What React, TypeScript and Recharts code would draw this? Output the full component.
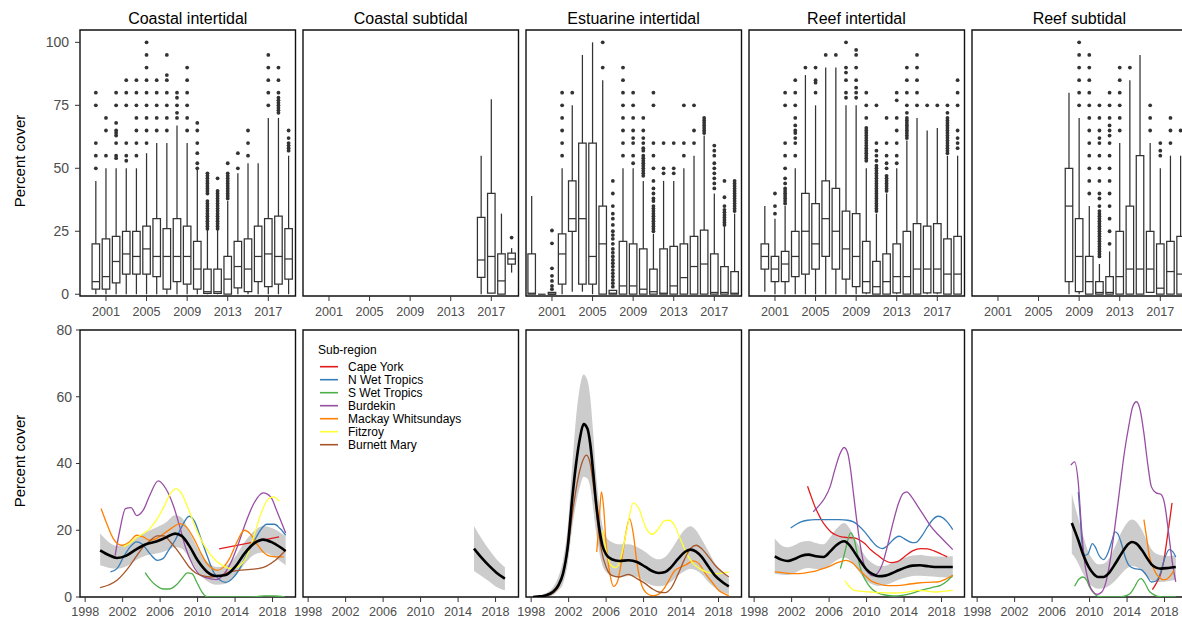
import React from "react";
import {
  ComposedChart,
  XAxis,
  YAxis,
  Line,
  Area,
  Scatter,
  ReferenceArea,
  ReferenceLine,
} from "recharts";

type Box = [number, number, number, number, number, number]; // year, lo, q1, median, q3, hi
type Outliers = [number, number[]];
type Pt = [number, number];
type Band = [number, number, number]; // year, lower, upper

const FONT = '"Liberation Sans", Arial, Helvetica, sans-serif';
const INK = "#333333";
const TICK_TEXT = "#4d4d4d";

const habitats = ["Coastal intertidal", "Coastal subtidal", "Estuarine intertidal", "Reef intertidal", "Reef subtidal"];
const subRegions = ["Cape York", "N Wet Tropics", "S Wet Tropics", "Burdekin", "Mackay Whitsundays", "Fitzroy", "Burnett Mary"];
const subRegionColors = ["#E41A1C", "#377EB8", "#4DAF4A", "#984EA3", "#FF7F00", "#FFFF33", "#A65628"];

const topYearTicks = [2001, 2005, 2009, 2013, 2017];
const topCoverTicks = [0, 25, 50, 75, 100];
const bottomYearTicks = [1998, 2002, 2006, 2010, 2014, 2018];
const bottomCoverTicks = [0, 20, 40, 60, 80];

// ---- yearly boxplots ----
const boxesCoastalIntertidal: Box[] = [
  [2000, 0, 2, 5, 20, 45], [2001, 0, 2, 7, 22, 50], [2002, 0, 4.5, 13, 23, 50], [2003, 0, 8, 16, 25, 50],
  [2004, 0, 8, 15, 25, 50], [2005, 0, 8, 18, 27, 56], [2006, 0, 7, 15, 30, 60], [2007, 0, 2, 15, 26, 60],
  [2008, 0, 5, 15, 30, 67], [2009, 0, 4, 15, 27, 60], [2010, 0, 2, 10, 21, 50], [2011, 0, 0.3, 1, 10, 25.5],
  [2012, 0, 0.3, 1, 10, 25.5], [2013, 0, 0, 6, 15, 37], [2014, 0, 2.5, 11, 21, 48], [2015, 0, 1, 10, 22, 52],
  [2016, 0, 5, 15, 27, 52], [2017, 0, 3, 16, 30, 70], [2018, 0, 4, 15, 31, 70], [2019, 0, 6, 14, 26, 55],
];
const outliersCoastalIntertidal: Outliers[] = [
  [2000, [50, 55, 60, 75, 80]],
  [2001, [55, 65, 70]],
  [2002, [54, 55, 60, 63, 64, 65, 68, 75, 80]],
  [2003, [53, 55, 60, 75, 80, 85]],
  [2004, [55, 60, 65, 70, 75, 80, 85]],
  [2005, [60, 65, 70, 75, 80, 85, 90, 95, 100]],
  [2006, [65, 70, 75, 80, 85]],
  [2007, [65, 70, 75, 80, 85, 87, 95]],
  [2008, [70, 72, 75, 78, 80]],
  [2009, [65, 70, 75, 80, 85, 90]],
  [2010, [50, 52, 56, 60, 65, 68]],
  [2011, [26, 27, 28, 29, 30, 31, 32, 33, 34, 35, 36, 37, 40, 41, 42, 43, 44, 45, 46, 47, 48]],
  [2012, [26, 27, 28, 29, 30, 31, 32, 33, 34, 35, 36, 37, 38, 39, 40, 41, 46]],
  [2013, [38, 39, 40, 41, 42, 43, 44, 45, 46, 47, 48, 52]],
  [2014, [50, 56]],
  [2015, [55, 60, 65]],
  [2017, [75, 80, 85, 90, 95]],
  [2018, [72, 73, 74, 75, 76, 77, 78, 80, 85, 90]],
  [2019, [57, 58, 59, 60, 62, 65]],
];

const boxesCoastalSubtidal: Box[] = [
  [2016, 0, 6.7, 13.6, 30.5, 55], [2017, 0.4, 0.4, 15, 40, 77.4], [2018, 0, 0, 5.3, 16, 32], [2019, 8.6, 12, 14, 16.3, 18.3],
];
const outliersCoastalSubtidal: Outliers[] = [[2019, [22.5]]];

const boxesEstuarineIntertidal: Box[] = [
  [1999, 0, 0, 0.4, 16, 39], [2000, 0, 0, 0, 0, 0], [2001, 0, 0, 0, 0.7, 0.7], [2002, 0, 4, 16, 24, 50],
  [2003, 1, 25, 30, 45, 75], [2004, 1, 4, 30, 60, 95], [2005, 0, 4, 15, 60, 100], [2006, 0, 0, 20, 35, 85],
  [2007, 0, 0, 0.4, 1.5, 1.5], [2008, 0, 0, 3.3, 21, 50], [2009, 0, 0, 3.3, 20, 50], [2010, 0, 0, 2, 18, 45],
  [2011, 0, 0, 1, 10, 24], [2012, 0, 0, 0.4, 18, 45], [2013, 0, 0, 3.3, 19, 45], [2014, 0, 0, 6.6, 20, 50],
  [2015, 0, 0, 11, 23, 55], [2016, 0, 0, 12, 25.5, 63], [2017, 0, 0, 0.7, 16, 40], [2018, 0, 0, 0.7, 11, 27],
  [2019, 0, 0, 0.4, 9, 32],
];
const outliersEstuarineIntertidal: Outliers[] = [
  [2001, [2, 3.3, 5.3, 7.3, 10.3, 20.2, 25.3]],
  [2002, [55, 60, 65, 70, 75, 80]],
  [2003, [80]],
  [2006, [90, 100]],
  [2007, [3, 4.4, 5.7, 7, 8.3, 9.6, 11, 12.3, 13.6, 15, 16.5, 18, 20, 22, 23.5, 25, 27.5, 30, 32, 35, 40, 45]],
  [2008, [55, 60, 65, 70, 75, 80, 85, 90]],
  [2009, [52, 55, 60, 62, 65, 70, 75, 80]],
  [2010, [47, 48, 49, 50, 51, 52, 53, 54, 55, 57, 58, 60, 62, 65, 70]],
  [2011, [25, 26, 27, 28, 29, 30, 31, 32, 33, 34, 35, 37, 38, 40, 42, 45, 50, 55, 60, 75, 80]],
  [2012, [48, 50, 60]],
  [2013, [48, 50, 60]],
  [2014, [55, 60, 75]],
  [2015, [60, 65, 75]],
  [2016, [64, 65, 66, 67, 68, 69, 70]],
  [2017, [42, 44, 46, 48, 50, 52, 55, 57, 59]],
  [2018, [27.5, 28.5, 29.5, 30.5, 31.5, 32.5, 33.5, 35, 38.5, 45]],
  [2019, [33, 34, 35, 36, 37, 38, 39, 40, 41, 42, 43, 44, 45]],
];

const boxesReefIntertidal: Box[] = [
  [2000, 1, 10, 15, 20, 35], [2001, 0, 5, 10, 15, 30], [2002, 0, 5, 12, 17, 35], [2003, 0, 7, 15, 25, 50],
  [2004, 0, 8, 25, 40, 87], [2005, 0, 10, 20, 36, 75], [2006, 0, 15, 30, 45, 90], [2007, 0, 10, 25, 42, 90],
  [2008, 0, 6, 18, 33, 75], [2009, 0, 3, 15, 32, 75], [2010, 0, 0.5, 5, 21, 50], [2011, 0, 0, 3, 13, 32],
  [2012, 0, 0, 5, 16, 40], [2013, 0, 0.5, 7, 20, 50], [2014, 0, 0, 7, 25, 61], [2015, 0, 0, 10, 28, 70],
  [2016, 0, 0.5, 10, 27, 65], [2017, 0, 0.5, 10, 28, 66], [2018, 0, 0, 8, 22, 55], [2019, 0, 0, 8, 23, 55],
];
const outliersReefIntertidal: Outliers[] = [
  [2001, [32, 35, 40]],
  [2002, [36, 37, 38, 39, 40, 41, 42, 44, 46, 50, 55, 60, 75, 80]],
  [2003, [55, 60, 62, 64, 65, 67, 70, 75, 80, 85]],
  [2004, [90]],
  [2005, [80, 84, 85, 90]],
  [2006, [95]],
  [2007, [95]],
  [2008, [78, 80, 85, 88, 90, 100]],
  [2009, [78, 80, 82, 85, 90, 95, 97]],
  [2010, [53, 54, 55, 56, 57, 58, 59, 60, 61, 62, 63, 64, 65, 66, 70, 75, 80]],
  [2011, [33, 34, 35, 36, 37, 38, 39, 40, 41, 42, 43, 44, 45, 46, 47, 48, 49, 50, 51, 53, 55, 57, 60, 75]],
  [2012, [41, 42, 43, 44, 45, 46, 47, 50, 52, 55, 60, 70]],
  [2013, [52, 55, 60, 65, 70, 77, 80]],
  [2014, [62, 63, 64, 65, 66, 67, 68, 69, 70, 72, 75, 80, 85, 90]],
  [2015, [75, 80, 85, 90, 95]],
  [2016, [75]],
  [2017, [75]],
  [2018, [56, 57, 58, 59, 60, 61, 62, 63, 64, 65, 66, 67, 68, 69, 70, 72, 75]],
  [2019, [58, 60, 62, 65, 75, 80, 85]],
];

const boxesReefSubtidal: Box[] = [
  [2008, 0, 5, 35, 50, 80], [2009, 0, 1, 15, 30, 70], [2010, 0, 0, 5, 15, 35], [2011, 0, 0, 0.7, 5, 12],
  [2012, 0, 0, 0.7, 7, 17], [2013, 0, 0, 7, 25, 60], [2014, 0, 0, 10, 35, 85], [2015, 0, 0, 10, 55, 95],
  [2016, 0.7, 0.7, 10, 25, 60], [2017, 0, 0, 2.4, 20, 50], [2018, 0, 0, 9, 21, 55], [2019, 0, 0, 8, 23, 55],
];
const outliersReefSubtidal: Outliers[] = [
  [2009, [75, 80, 85, 90, 95, 100]],
  [2010, [40, 45, 50, 55, 60, 65, 70, 75, 80, 85, 90, 95]],
  [2011, [15, 16, 17, 18, 19, 20, 21, 22, 23, 24, 25, 26, 27, 28, 29, 30, 31, 32, 33, 35, 38, 40, 45, 50, 55, 60, 62, 65, 70, 75]],
  [2012, [20, 25, 30, 35, 40, 45, 50, 55, 60, 63, 65, 67, 70, 75, 80]],
  [2013, [65, 70, 75, 80, 85, 90]],
  [2014, [90]],
  [2016, [65, 70, 75]],
  [2017, [55, 57, 60]],
  [2018, [60, 65, 70]],
  [2019, [65]],
];

// ---- smoothed trends by sub-region ----
const ciMean: Pt[] = [[1999.6, 14], [2000.5, 12.6], [2001.4, 11.7], [2002.4, 12.4], [2003.4, 14.2], [2004.5, 15.8], [2005.6, 16.6], [2006.6, 17.8], [2007.6, 19], [2008.3, 18.3], [2009.1, 15.4], [2010, 11], [2011, 7.6], [2012, 6.3], [2013, 6.6], [2014, 9], [2015, 13], [2016, 16], [2017, 17.2], [2018, 16.3], [2019.4, 13.8]];
const ciRibbon: Band[] = [[1999.6, 9.5, 19], [2000.5, 8.8, 16.5], [2001.4, 8.5, 15.3], [2002.4, 9.2, 15.8], [2003.4, 11, 17.6], [2004.5, 12.4, 19.4], [2005.6, 13, 20.8], [2006.6, 13.8, 22.3], [2007.6, 15, 24.5], [2008.3, 14.5, 23.8], [2009.1, 11.8, 19.6], [2010, 7.8, 14.6], [2011, 4.8, 10.6], [2012, 3.7, 9], [2013, 4, 9.4], [2014, 6.2, 12], [2015, 9.8, 16.4], [2016, 12.6, 19.7], [2017, 13.3, 21.3], [2018, 12.3, 20.6], [2019.4, 9.5, 18.2]];
const ciCapeYork: Pt[] = [[2012.3, 14.4], [2018.7, 18]];
const ciNWetTropics: Pt[] = [[2000.7, 7.5], [2001.4, 8.5], [2002.1, 12], [2002.8, 15], [2003.5, 16.5], [2004.1, 15.8], [2004.9, 13], [2005.7, 11], [2006.3, 11.5], [2006.9, 14], [2007.6, 17], [2008.3, 21], [2009.1, 24.2], [2009.7, 22.5], [2010.3, 18], [2011, 12.5], [2011.7, 7.5], [2012.4, 5], [2013, 4.4], [2013.7, 5.5], [2014.5, 8.5], [2015.3, 13], [2016, 16.5], [2016.7, 20], [2017.4, 21.8], [2018.2, 21.8], [2018.8, 20.5], [2019.4, 18.5]];
const ciSWetTropics: Pt[] = [[2004.4, 7.3], [2005, 5], [2005.7, 3.2], [2006.3, 2.4], [2007, 2.4], [2007.8, 3.8], [2008.4, 5.8], [2008.9, 7.2], [2009.4, 7], [2009.9, 4.5], [2010.4, 1.8], [2010.9, 0.2], [2011.5, 0], [2013, 0], [2015, 0], [2016.3, 0.1], [2017.2, 0.35], [2018.2, 0.3], [2019.3, 0]];
const ciBurdekin: Pt[] = [[2001.2, 12.5], [2001.7, 20], [2002.3, 26.5], [2002.9, 26.8], [2003.5, 24.4], [2004.2, 26], [2004.9, 30.5], [2005.8, 34.8], [2006.6, 32.5], [2007.4, 27.5], [2008.1, 21], [2008.7, 15], [2009.5, 9.5], [2010.3, 6.5], [2011, 5.7], [2012, 5.2], [2012.7, 6.5], [2013.5, 10], [2014.3, 15.5], [2015.1, 22], [2016, 28], [2017, 31.2], [2017.8, 30], [2018.5, 25.5], [2019.4, 19.2]];
const ciMackay: Pt[] = [[1999.7, 26.5], [2000.3, 22], [2001, 17.5], [2001.9, 15.5], [2002.7, 16.5], [2003.5, 18.5], [2004.2, 18], [2004.9, 17], [2005.6, 17.5], [2006.4, 19], [2007.3, 20.8], [2008.1, 22], [2008.8, 21], [2009.6, 17.5], [2010.3, 13.5], [2011, 10], [2011.6, 8.5], [2012.1, 8], [2012.7, 8.8], [2013.4, 11.5], [2014.2, 16.5], [2015, 20], [2015.6, 19], [2016.3, 16], [2017, 13.5], [2017.8, 12.2], [2019.2, 12]];
const ciFitzroy: Pt[] = [[2002.1, 15], [2002.8, 16.2], [2003.5, 17.8], [2004.2, 19], [2004.9, 20.5], [2005.7, 23.5], [2006.4, 27], [2007.1, 31], [2007.7, 32.4], [2008.3, 31], [2009, 26.5], [2009.9, 20], [2010.6, 16], [2011.3, 13], [2012, 10.8], [2012.8, 9.2], [2013.5, 8.5], [2014.3, 9], [2015, 11], [2015.7, 15.5], [2016.3, 21], [2016.9, 26], [2017.6, 29.5], [2018.1, 30], [2018.7, 28.7]];
const ciBurnettMary: Pt[] = [[1999.6, 2.8], [2000.5, 3.6], [2001.4, 5], [2002.1, 7], [2002.8, 9.5], [2003.5, 12.3], [2004.2, 15], [2004.9, 16.8], [2005.7, 18.3], [2006.4, 18.3], [2007.1, 16.5], [2007.7, 14.5], [2008.4, 11.8], [2009.1, 9], [2009.8, 7.2], [2010.6, 6.3], [2011.4, 6], [2012.4, 6.4], [2013.4, 7.5], [2014.4, 8], [2015.4, 8.2], [2016.4, 8.5], [2017.3, 9.2], [2018.3, 11], [2019.4, 14]];

const csMean: Pt[] = [[2015.7, 14.5], [2016.5, 11.8], [2017.3, 9.4], [2018.1, 7.3], [2019, 5.5]];
const csRibbon: Band[] = [[2015.7, 7.8, 21.3], [2016.5, 6.3, 17.5], [2017.3, 4.7, 14.2], [2018.1, 3, 11.3], [2019, 2, 8.9]];

const eiMean: Pt[] = [[1998.2, 0], [1999, 0.2], [1999.6, 0.5], [2000.3, 1.5], [2000.9, 3.5], [2001.4, 7], [2001.9, 15], [2002.4, 30], [2002.8, 40], [2003.2, 47.5], [2003.6, 51.8], [2004, 50.5], [2004.3, 46], [2004.6, 38], [2004.9, 29], [2005.3, 20], [2005.6, 15.5], [2006, 12.8], [2006.6, 11.3], [2007.4, 10.8], [2008.4, 11], [2009.3, 10.5], [2010.2, 9], [2010.9, 7.8], [2011.6, 7.2], [2012.3, 7.5], [2012.9, 8.8], [2013.7, 11.5], [2014.4, 13.5], [2015, 14.2], [2015.6, 13.6], [2016.2, 12], [2016.9, 9.2], [2017.6, 6.5], [2018.4, 4.5], [2019.1, 3.2]];
const eiRibbon: Band[] = [[1998.2, 0, 0], [1999, 0, 0.5], [1999.6, 0, 1.2], [2000.3, 0.5, 2.8], [2000.9, 2, 6], [2001.4, 4, 11], [2001.9, 10, 21], [2002.4, 21, 40], [2002.8, 28, 54], [2003.2, 33, 63], [2003.6, 36, 66.7], [2004, 35.5, 65], [2004.3, 33, 60], [2004.6, 27, 50], [2004.9, 20, 38], [2005.3, 13, 27], [2005.6, 9.5, 21.5], [2006, 7.5, 18], [2006.6, 6.3, 16.5], [2007.4, 6, 15.8], [2008.4, 6.3, 15.8], [2009.3, 6, 15], [2010.2, 4.5, 13.5], [2010.9, 3.5, 12], [2011.6, 3.2, 11.3], [2012.3, 3.5, 12], [2012.9, 4.5, 14], [2013.7, 6.5, 17.5], [2014.4, 7.8, 20.2], [2015, 8.5, 21.2], [2015.6, 8, 20], [2016.2, 6.8, 17.3], [2016.9, 4.5, 13.8], [2017.6, 2.8, 10.2], [2018.4, 1.5, 7.5], [2019.1, 0.8, 5.6]];
const eiMackay: Pt[] = [[2005, 13.5], [2005.3, 25], [2005.5, 31.5], [2005.7, 28], [2006, 16], [2006.4, 7], [2006.8, 3.2], [2007.2, 4.5], [2007.6, 10], [2008.1, 19], [2008.5, 23.5], [2008.9, 19], [2009.3, 10], [2009.8, 3.5], [2010.4, 1], [2011, 0.4], [2011.6, 0.8], [2012.1, 2.2], [2012.7, 5], [2013.3, 7.8], [2014, 9], [2014.6, 9.8], [2015.3, 10.8], [2015.9, 10], [2016.6, 7], [2017.3, 4.5], [2018, 2], [2018.6, 1], [2019.1, 0.4]];
const eiFitzroy: Pt[] = [[2005.6, 20], [2006, 14], [2006.5, 9.5], [2007, 8.8], [2007.5, 11], [2008.2, 20], [2008.9, 28.2], [2009.5, 26.5], [2010.2, 21], [2010.9, 18.8], [2011.6, 20.5], [2012.2, 22.8], [2012.7, 23], [2013.3, 21.5], [2013.9, 17.5], [2014.6, 13], [2015.3, 10], [2016, 8.5], [2016.7, 7.5], [2017.5, 7], [2018.3, 7.1], [2019.1, 7.5]];
const eiBurnettMary: Pt[] = [[1998.2, 0], [1999.6, 0.4], [2000.5, 1.5], [2001.2, 5], [2001.8, 12], [2002.4, 25], [2002.9, 34], [2003.4, 40], [2003.9, 42.5], [2004.3, 40], [2004.7, 32], [2005.1, 22], [2005.5, 14], [2006, 9], [2006.6, 6.5], [2007.4, 6], [2008.4, 6.8], [2009.3, 5.5], [2010.2, 4], [2010.9, 2.5], [2011.6, 1.5], [2012.3, 1.3], [2012.9, 2.5], [2013.7, 7], [2014.4, 11.5], [2015, 14.5], [2015.6, 15.5], [2016.3, 14.2], [2017, 11.8], [2017.7, 9.3], [2018.4, 7.5], [2019.1, 6]];

const riMean: Pt[] = [[2000.2, 12.2], [2000.9, 11.2], [2001.6, 10.8], [2002.3, 11.4], [2003, 12.3], [2003.8, 12.7], [2004.6, 12.2], [2005.4, 12], [2006.1, 13.6], [2006.8, 15.6], [2007.6, 16.7], [2008.2, 15.5], [2008.8, 13], [2009.4, 10.5], [2010, 8.2], [2010.6, 6.9], [2011.3, 6.2], [2012, 6.4], [2012.7, 7.1], [2013.4, 8], [2014.1, 8.8], [2014.9, 9.4], [2015.7, 9.5], [2016.6, 9.2], [2017.6, 9], [2019.2, 9]];
const riRibbon: Band[] = [[2000.2, 7, 17.5], [2000.9, 6.7, 15.5], [2001.6, 6.6, 14.9], [2002.3, 7.2, 15.5], [2003, 8.2, 16.5], [2003.8, 8.7, 16.8], [2004.6, 8.4, 16.2], [2005.4, 8.4, 15.8], [2006.1, 9.6, 17.8], [2006.8, 11, 20.5], [2007.6, 11.8, 22.2], [2008.2, 11, 20.5], [2008.8, 9, 17.3], [2009.4, 6.8, 14.3], [2010, 4.9, 11.7], [2010.6, 3.8, 10.2], [2011.3, 3.3, 9.3], [2012, 3.6, 9.4], [2012.7, 4.3, 10.2], [2013.4, 5.2, 11], [2014.1, 5.8, 11.8], [2014.9, 6.3, 12.4], [2015.7, 6.4, 12.6], [2016.6, 6.2, 12.3], [2017.6, 6, 12.1], [2019.2, 5.8, 12.2]];
const riCapeYork: Pt[] = [[2003.7, 33.2], [2004.1, 30], [2004.5, 27], [2004.9, 24.6], [2005.2, 23], [2005.7, 21], [2006.2, 19.5], [2006.8, 18.5], [2007.3, 18], [2008, 17.8], [2008.7, 17.7], [2009.3, 17], [2009.8, 16], [2010.5, 14], [2011.2, 12.5], [2011.9, 11], [2012.6, 10.3], [2013.3, 10.6], [2014, 12], [2014.9, 13.8], [2015.8, 14.5], [2016.5, 14.4], [2017.2, 13.8], [2018, 12.8], [2018.6, 12]];
const riNWetTropics: Pt[] = [[2001.9, 20.7], [2002.5, 21.8], [2003, 22.5], [2003.7, 23], [2004.5, 23.2], [2005.3, 23.2], [2006.2, 23.2], [2007.1, 23.2], [2008, 23], [2008.6, 22.5], [2009.1, 21.5], [2009.8, 19.5], [2010.5, 17], [2011.1, 15.2], [2011.7, 14.5], [2012.2, 15.3], [2012.6, 16.5], [2013.1, 17.8], [2013.5, 18.2], [2014, 17.5], [2014.4, 16.8], [2014.9, 16.3], [2015.3, 16.4], [2015.9, 18.3], [2016.5, 21], [2017.1, 23.3], [2017.6, 24.2], [2018.1, 23.8], [2018.6, 22.5], [2019.2, 20.2]];
const riSWetTropics: Pt[] = [[2007.2, 8.5], [2007.6, 12.5], [2007.9, 16], [2008.3, 19.2], [2008.7, 17], [2009, 13], [2009.3, 9], [2009.7, 6], [2010.1, 4], [2010.6, 2.3], [2011.2, 1.2], [2012, 0.6], [2012.9, 0.3], [2013.8, 0.5], [2014.7, 1], [2015.6, 1.8], [2016.5, 2.5], [2017.2, 3], [2017.9, 3.5], [2018.6, 4.8], [2019.2, 6.5]];
const riBurdekin: Pt[] = [[2004.3, 25.5], [2004.9, 27.3], [2005.5, 29.5], [2006.1, 33], [2006.6, 38], [2007.1, 42.5], [2007.6, 44.8], [2008, 43], [2008.3, 38], [2008.6, 31], [2008.9, 24], [2009.3, 16], [2009.7, 10], [2010.2, 7.2], [2010.7, 6.3], [2011.2, 7.2], [2011.7, 10], [2012.2, 15], [2012.8, 22], [2013.4, 28], [2013.9, 31], [2014.3, 31.5], [2014.8, 30], [2015.5, 27], [2016.2, 24], [2016.9, 21], [2017.6, 18.8], [2018.3, 16.8], [2019.2, 14.2]];
const riMackay: Pt[] = [[2000.2, 7.5], [2001.2, 7.2], [2002.3, 7], [2003.2, 7.1], [2004.1, 7.5], [2005, 8.2], [2005.9, 9], [2006.9, 10.3], [2007.8, 11], [2008.5, 10.2], [2009.1, 8.5], [2009.8, 6.5], [2010.5, 4.8], [2011.2, 4], [2011.9, 3.5], [2012.7, 3.4], [2013.6, 3.5], [2014.6, 3.9], [2015.5, 4.2], [2016.5, 4.4], [2017.6, 4.5], [2018.4, 5.3], [2019.2, 6.5]];
const riFitzroy: Pt[] = [[2007.7, 4.8], [2008.2, 3], [2008.7, 2], [2009.5, 1.7], [2010.5, 1.5], [2011.7, 1.3], [2012.9, 1.2], [2014.2, 1.4], [2015.5, 2], [2016.4, 1.8], [2017.2, 1.5], [2018.2, 1.7], [2019.2, 2]];

const rsMean: Pt[] = [[2008.1, 22.2], [2008.5, 19.3], [2008.8, 17], [2009.3, 12.8], [2009.9, 9], [2010.4, 7], [2010.9, 6], [2011.5, 6], [2012, 7], [2012.7, 9.8], [2013.4, 13], [2014, 15.5], [2014.5, 16.5], [2015, 16], [2015.6, 14], [2016.1, 11.8], [2016.6, 9.8], [2017.1, 8.8], [2017.6, 8.5], [2018.4, 8.7], [2019.2, 9]];
const rsRibbon: Band[] = [[2008.1, 13, 31], [2008.5, 11.5, 26.5], [2008.8, 10, 23.5], [2009.3, 7, 18.5], [2009.9, 4.2, 13.3], [2010.4, 3, 11], [2010.9, 2.5, 9.8], [2011.5, 2.6, 10], [2012, 3.2, 11.2], [2012.7, 4.8, 15], [2013.4, 7, 19.5], [2014, 8.6, 22.2], [2014.5, 9.3, 23.2], [2015, 9, 22.5], [2015.6, 7.7, 20], [2016.1, 6.1, 17], [2016.6, 5, 14.3], [2017.1, 4.5, 13], [2017.6, 4.5, 12.5], [2018.4, 4.8, 12.3], [2019.2, 5.2, 12.5]];
const rsCapeYork: Pt[] = [[2016.7, 2.2], [2017.1, 4], [2017.6, 7], [2017.9, 10.5], [2018.3, 18], [2018.6, 24], [2018.8, 28.2]];
const rsNWetTropics: Pt[] = [[2008.8, 31.5], [2009, 24], [2009.2, 16], [2009.5, 12.5], [2009.8, 12.8], [2010.3, 16], [2010.6, 15], [2011, 12.5], [2011.5, 11.2], [2012, 13.5], [2012.4, 17], [2012.7, 19.5], [2013, 19], [2013.4, 16], [2013.8, 12], [2014.2, 9.5], [2014.8, 8.5], [2015.5, 8.2], [2016, 6.8], [2016.6, 4.5], [2017.1, 4.8], [2017.6, 7.5], [2018, 11.5], [2018.5, 14.2], [2018.9, 13.5], [2019.2, 12]];
const rsSWetTropics: Pt[] = [[2008.4, 3.2], [2008.9, 5.5], [2009.3, 6], [2009.7, 5], [2010, 3], [2010.5, 1], [2010.9, 0.2], [2011.8, 0], [2012.7, 0], [2013.6, 0.2], [2014.3, 1], [2014.8, 3], [2015.2, 5], [2015.5, 5.5], [2015.9, 4.2], [2016.3, 2], [2016.8, 0.8], [2017.3, 0.2], [2018.2, 0], [2019.2, 0]];
const rsBurdekin: Pt[] = [[2008, 39.5], [2008.4, 40.5], [2008.8, 34], [2009.1, 22], [2009.4, 12], [2009.8, 5.5], [2010.3, 1.8], [2010.8, 0.8], [2011.3, 1.5], [2011.7, 4], [2012.2, 11], [2012.7, 21], [2013.2, 32], [2013.7, 43], [2014.2, 51.5], [2014.6, 57], [2015, 58.5], [2015.4, 56], [2015.8, 49], [2016.2, 40], [2016.6, 33], [2017.1, 31.2], [2017.6, 30.8], [2018, 28], [2018.4, 20], [2018.8, 11], [2019.2, 4.5]];
const rsMackay: Pt[] = [[2015.8, 23.2], [2016.1, 17.5], [2016.4, 12], [2016.8, 8.8], [2017.1, 7], [2017.5, 5.8], [2017.8, 5.2], [2018.2, 5.3], [2018.5, 6], [2018.8, 7], [2019, 8]];

// ---- layout ----
const PANEL_X0 = 80;
const PANEL_STEP = 222.9;
const PANEL_W = 215.5;
const Y_AXIS_W = 65;
const SIDE = 15;
const PAD_TOP = 12;
const X_AXIS_H = 26;
const TOP_ROW = { y: 30, h: 266 };
const BOTTOM_ROW = { y: 330, h: 267 };
const TOP_X_DOMAIN: [number, number] = [1998.44, 2019.68];
const TOP_Y_DOMAIN: [number, number] = [-0.7, 104.9];
const BOTTOM_X_DOMAIN: [number, number] = [1997.45, 2020.45];
const BOTTOM_Y_DOMAIN: [number, number] = [0, 80];
const HALF_BOX = 0.37;
const BOX_STROKE = 1.25;

const panelLeft = (col: number) => PANEL_X0 + col * PANEL_STEP;

const frameFor = (col: number, row: { y: number; h: number }) => {
  const yW = col === 0 ? Y_AXIS_W : 0;
  return {
    left: panelLeft(col) - SIDE - yW,
    top: row.y - PAD_TOP,
    width: SIDE + yW + PANEL_W + SIDE,
    height: PAD_TOP + row.h + X_AXIS_H,
    margin: { top: PAD_TOP, right: SIDE, bottom: 0, left: SIDE },
  };
};

const xTick = { fill: TICK_TEXT, fontSize: 12.6, fontFamily: FONT };
const yTick = { fill: TICK_TEXT, fontSize: 14, fontFamily: FONT };

const renderOutlier = (p: any) => <circle cx={p.cx} cy={p.cy} r={1.9} fill={INK} />;

const TopPanel = ({ col, boxes, outliers }: { col: number; boxes: Box[]; outliers: Outliers[] }) => {
  const f = frameFor(col, TOP_ROW);
  const points = outliers.flatMap(([year, values]) => values.map((v) => ({ x: year, y: v })));
  const marks = boxes.flatMap(([year, lo, q1, med, q3, hi]) => [
    <ReferenceLine key={`lw${year}`} segment={[{ x: year, y: lo }, { x: year, y: q1 }]} stroke={INK} strokeWidth={BOX_STROKE} ifOverflow="visible" />,
    <ReferenceLine key={`uw${year}`} segment={[{ x: year, y: q3 }, { x: year, y: hi }]} stroke={INK} strokeWidth={BOX_STROKE} ifOverflow="visible" />,
    <ReferenceArea key={`bx${year}`} x1={year - HALF_BOX} x2={year + HALF_BOX} y1={q1} y2={q3} fill="none" stroke={INK} strokeWidth={BOX_STROKE} ifOverflow="visible" />,
    <ReferenceLine key={`md${year}`} segment={[{ x: year - HALF_BOX, y: med }, { x: year + HALF_BOX, y: med }]} stroke={INK} strokeWidth={BOX_STROKE} ifOverflow="visible" />,
  ]);
  return (
    <div style={{ position: "absolute", left: f.left, top: f.top }}>
      <ComposedChart width={f.width} height={f.height} margin={f.margin}>
        <XAxis dataKey="x" type="number" domain={TOP_X_DOMAIN} ticks={topYearTicks} interval={0} allowDataOverflow
          height={X_AXIS_H} axisLine={false} tickSize={5} tickMargin={6} tickLine={{ stroke: INK }} tick={xTick} />
        <YAxis type="number" domain={TOP_Y_DOMAIN} ticks={topCoverTicks} interval={0} allowDataOverflow hide={col !== 0}
          width={Y_AXIS_W} axisLine={false} tickSize={5} tickMargin={6} tickLine={{ stroke: INK }} tick={yTick} />
        {marks}
        <Scatter data={points} dataKey="y" shape={renderOutlier} isAnimationActive={false} />
        <ReferenceArea x1={TOP_X_DOMAIN[0]} x2={TOP_X_DOMAIN[1]} y1={TOP_Y_DOMAIN[0]} y2={TOP_Y_DOMAIN[1]}
          fill="none" stroke="#111" strokeWidth={1.4} ifOverflow="visible" />
      </ComposedChart>
    </div>
  );
};

const toXY = (pts: Pt[]) => pts.map(([x, y]) => ({ x, y }));

const BottomPanel = ({ col, mean, ribbon, lines }: { col: number; mean: Pt[]; ribbon: Band[]; lines: [number, Pt[]][] }) => {
  const f = frameFor(col, BOTTOM_ROW);
  const band = ribbon.map(([x, lo, hi]) => ({ x, range: [lo, hi] }));
  return (
    <div style={{ position: "absolute", left: f.left, top: f.top }}>
      <ComposedChart width={f.width} height={f.height} margin={f.margin}>
        <XAxis dataKey="x" type="number" domain={BOTTOM_X_DOMAIN} ticks={bottomYearTicks} interval={0} allowDataOverflow
          height={X_AXIS_H} axisLine={false} tickSize={5} tickMargin={5} tickLine={{ stroke: INK }} tick={xTick} />
        <YAxis type="number" domain={BOTTOM_Y_DOMAIN} ticks={bottomCoverTicks} interval={0} allowDataOverflow hide={col !== 0}
          width={Y_AXIS_W} axisLine={false} tickSize={4} tickMargin={4} tickLine={{ stroke: INK }} tick={yTick} />
        <Area data={band} dataKey="range" type="monotone" stroke="none" fill="#cccccc" fillOpacity={1} isAnimationActive={false} />
        {lines.map(([ci, pts]) => (
          <Line key={subRegions[ci]} data={toXY(pts)} dataKey="y" name={subRegions[ci]} type="monotone"
            stroke={subRegionColors[ci]} strokeWidth={1.3} dot={false} isAnimationActive={false} />
        ))}
        <Line data={toXY(mean)} dataKey="y" type="monotone" stroke="#000" strokeWidth={2.6} dot={false} isAnimationActive={false} />
        <ReferenceArea x1={BOTTOM_X_DOMAIN[0]} x2={BOTTOM_X_DOMAIN[1]} y1={BOTTOM_Y_DOMAIN[0]} y2={BOTTOM_Y_DOMAIN[1]}
          fill="none" stroke="#111" strokeWidth={1.4} ifOverflow="visible" />
      </ComposedChart>
    </div>
  );
};

const topPanels = [
  { boxes: boxesCoastalIntertidal, outliers: outliersCoastalIntertidal },
  { boxes: boxesCoastalSubtidal, outliers: outliersCoastalSubtidal },
  { boxes: boxesEstuarineIntertidal, outliers: outliersEstuarineIntertidal },
  { boxes: boxesReefIntertidal, outliers: outliersReefIntertidal },
  { boxes: boxesReefSubtidal, outliers: outliersReefSubtidal },
];

const bottomPanels: { mean: Pt[]; ribbon: Band[]; lines: [number, Pt[]][] }[] = [
  { mean: ciMean, ribbon: ciRibbon, lines: [[0, ciCapeYork], [1, ciNWetTropics], [2, ciSWetTropics], [3, ciBurdekin], [4, ciMackay], [5, ciFitzroy], [6, ciBurnettMary]] },
  { mean: csMean, ribbon: csRibbon, lines: [] },
  { mean: eiMean, ribbon: eiRibbon, lines: [[4, eiMackay], [5, eiFitzroy], [6, eiBurnettMary]] },
  { mean: riMean, ribbon: riRibbon, lines: [[0, riCapeYork], [1, riNWetTropics], [2, riSWetTropics], [3, riBurdekin], [4, riMackay], [5, riFitzroy]] },
  { mean: rsMean, ribbon: rsRibbon, lines: [[0, rsCapeYork], [1, rsNWetTropics], [2, rsSWetTropics], [3, rsBurdekin], [4, rsMackay]] },
];

// legend drawn as a small svg so the keys keep their exact colours
const SubRegionLegend = () => (
  <svg style={{ position: "absolute", left: 310, top: 340 }} width={170} height={112}>
    <text x={8} y={10} dy="0.35em" fontSize={12} fontFamily={FONT} fill="#000">Sub-region</text>
    {subRegions.map((name, i) => {
      const y = 26.7 + i * 13;
      return (
        <g key={name}>
          <line x1={10} x2={28} y1={y} y2={y} stroke={subRegionColors[i]} strokeWidth={1.6} />
          <text x={38} y={y} dy="0.35em" fontSize={12} fontFamily={FONT} fill="#000">{name}</text>
        </g>
      );
    })}
  </svg>
);

const CoverLabel = ({ y }: { y: number }) => (
  <div style={{ position: "absolute", left: 19, top: y, transform: "translate(-50%, -50%) rotate(-90deg)", whiteSpace: "nowrap", fontSize: 15, color: "#000" }}>
    Percent cover
  </div>
);

export default function App() {
  return (
    <div style={{ position: "fixed", left: 0, top: 0, width: 1182, height: 619, overflow: "hidden", background: "#fff", fontFamily: FONT }}>
      {habitats.map((h, i) => (
        <div key={h} style={{ position: "absolute", left: panelLeft(i), top: 10, width: PANEL_W, textAlign: "center", fontSize: 16, lineHeight: "18px", color: "#000", whiteSpace: "nowrap" }}>
          {h}
        </div>
      ))}
      <CoverLabel y={161} />
      <CoverLabel y={461} />
      {topPanels.map((p, i) => (
        <TopPanel key={`t${i}`} col={i} boxes={p.boxes} outliers={p.outliers} />
      ))}
      {bottomPanels.map((p, i) => (
        <BottomPanel key={`b${i}`} col={i} mean={p.mean} ribbon={p.ribbon} lines={p.lines} />
      ))}
      <SubRegionLegend />
    </div>
  );
}
